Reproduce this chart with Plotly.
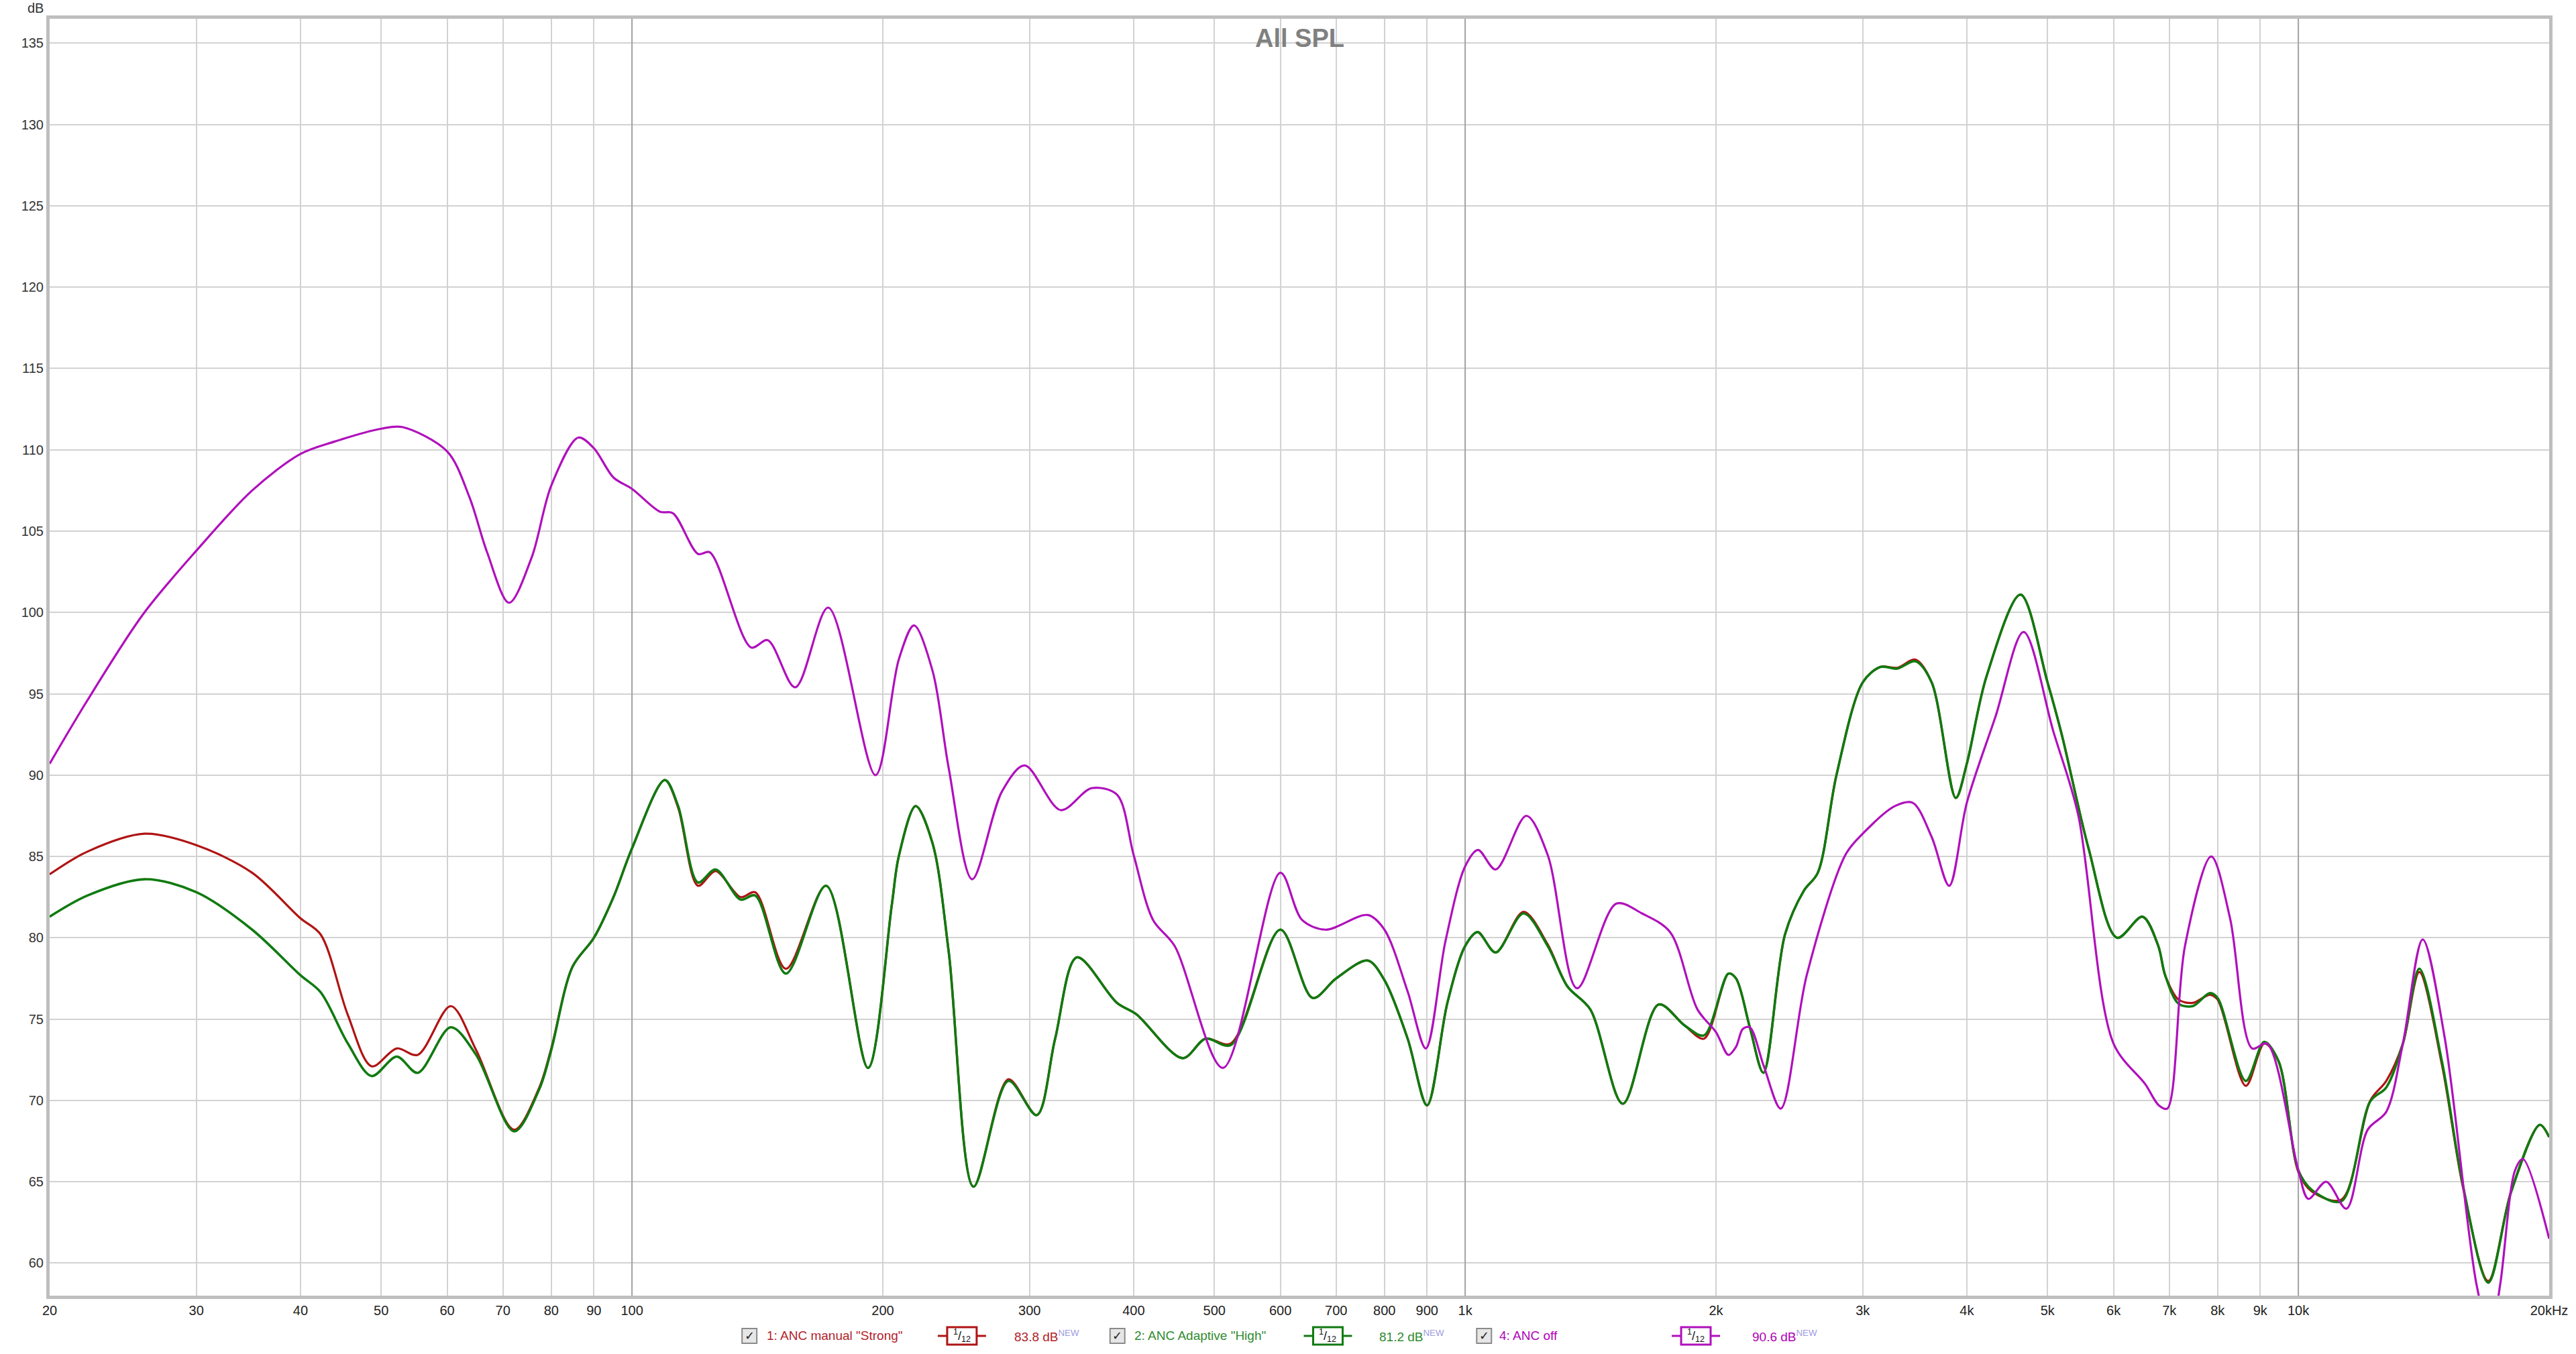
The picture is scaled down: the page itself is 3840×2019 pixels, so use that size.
import plotly.graph_objects as go

# ---------------- data ----------------
freq_off = [20, 22.2, 25.9, 30, 35, 40, 43.9, 50, 53, 60, 63.8, 67, 71.2, 75.8, 80, 86.2, 90, 95, 100,
            108, 112, 120, 124, 139, 145.5, 157, 172, 196, 209, 218, 229.5, 240, 256, 278, 296, 327, 356, 382,
            400, 422, 448, 512, 600, 637, 680, 764, 800, 853, 897, 947, 1000, 1036, 1088, 1184, 1256, 1362,
            1518, 1630, 1762, 1900, 2000, 2070, 2114, 2154, 2196, 2283, 2392, 2570, 2860, 3000, 3280, 3445,
            3630, 3810, 4000, 4330, 4680, 5080, 5440, 6000, 6550, 6800, 6960, 7310, 7860, 8280, 8800, 9170,
            10000, 10280, 10800, 11420, 12110, 12750, 13350, 14100, 14980, 16360, 17000, 17470, 18200, 18600,
            20000]
spl_off = [90.7, 94.6, 99.9, 103.8, 107.5, 109.75, 110.5, 111.3, 111.4, 109.9, 107.1, 103.7, 100.6,
           103.4, 107.8, 110.75, 110.1, 108.3, 107.6, 106.2, 106.1, 103.6, 103.7, 97.85, 98.3, 95.4, 100.3,
           90.0, 97.1, 99.2, 96.4, 90.4, 83.6, 89.0, 90.6, 87.85, 89.2, 88.8, 85.1, 81.1, 79.5, 72.0, 84.0,
           81.1, 80.5, 81.4, 80.5, 76.7, 73.2, 79.8, 84.4, 85.4, 84.2, 87.5, 85.1, 76.9, 82.1, 81.5, 80.35,
           75.6, 74.2, 72.8, 73.3, 74.4, 74.5, 72.1, 69.5, 77.7, 85.1, 86.4, 88.1, 88.3, 86.2, 83.2, 88.3,
           93.6, 98.8, 92.7, 87.6, 73.5, 71.0, 69.7, 69.5, 79.5, 85.0, 81.2, 73.2, 73.5, 65.7, 63.95, 65.0,
           63.35, 68.2, 69.3, 73.5, 79.9, 73.9, 58.7, 55.5, 58.7, 65.7, 66.4, 61.5]

freq_anc = [20, 22.2, 26, 30, 35, 40, 42.3, 45.6, 48.7, 52.2, 55.3, 60.6, 65, 72.2, 77.4, 80, 84.8, 90, 95,
            100, 109.5, 113.6, 120, 126, 135, 140.6, 153, 171, 192, 205, 209, 219, 229.5, 240, 257, 283, 306,
            322, 342, 382, 403, 458, 488, 523, 600, 656, 700, 764, 800, 853, 900, 952, 1000, 1035, 1088,
            1175, 1256, 1327, 1413, 1546, 1707, 1835, 1935, 2070, 2114, 2196, 2280, 2420, 2550, 2650, 2790,
            3000, 3150, 3300, 3470, 3630, 3880, 4000, 4220, 4640, 5000, 5200, 5600, 6060, 6500, 6790, 6920,
            7180, 7470, 7830, 8000, 8650, 9100, 9470, 10000, 10380, 11260, 12200, 12750, 13350, 13970,
            14870, 15770, 16900, 18000, 19490, 20000]
spl_adaptive = [81.3, 82.6, 83.6, 82.8, 80.5, 77.7, 76.65, 73.5, 71.5, 72.7, 71.7, 74.5, 72.8, 68.1, 70.7,
                73.1, 78.2, 80.0, 82.5, 85.5, 89.7, 88.1, 83.4, 84.2, 82.35, 82.6, 77.8, 83.2, 72.0, 82.0,
                85.0, 88.1, 85.8, 79.1, 64.7, 71.2, 69.1, 73.8, 78.8, 76.0, 75.3, 72.6, 73.8, 73.4, 80.5,
                76.3, 77.5, 78.6, 77.4, 73.8, 69.7, 76.0, 79.5, 80.35, 79.1, 81.5, 79.5, 77.0, 75.6, 69.8,
                75.9, 74.6, 74.0, 77.8, 77.5, 74.5, 71.7, 80.2, 82.9, 84.0, 90.0, 95.7, 96.65, 96.55, 97.0,
                95.7, 88.6, 90.7, 96.0, 101.1, 95.7, 92.5, 85.5, 80.0, 81.3, 79.5, 77.7, 75.95, 75.8, 76.6,
                76.3, 71.2, 73.6, 72.4, 65.7, 64.5, 63.8, 69.95, 70.8, 73.5, 78.1, 72.4, 64.7, 58.8, 64.35,
                68.5, 67.75]
spl_manual = [83.9, 85.3, 86.4, 85.7, 84.0, 81.2, 80.2, 75.25, 72.1, 73.2, 72.8, 75.8, 73.1, 68.2, 70.8,
              73.2, 78.2, 80.0, 82.5, 85.5, 89.7, 88.0, 83.2, 84.1, 82.5, 82.8, 78.1, 83.2, 72.0, 82.0,
              85.0, 88.1, 85.8, 79.1, 64.7, 71.3, 69.1, 73.8, 78.8, 76.0, 75.3, 72.6, 73.8, 73.5, 80.5,
              76.3, 77.5, 78.6, 77.4, 73.8, 69.7, 76.0, 79.5, 80.35, 79.1, 81.6, 79.6, 77.0, 75.6, 69.8,
              75.9, 74.6, 73.8, 77.8, 77.5, 74.5, 71.7, 80.2, 82.9, 84.0, 90.0, 95.7, 96.65, 96.6, 97.1,
              95.7, 88.6, 90.7, 96.0, 101.1, 95.7, 92.5, 85.5, 80.0, 81.3, 79.5, 77.7, 76.2, 76.0, 76.5,
              76.2, 70.9, 73.5, 72.4, 65.6, 64.4, 63.9, 70.0, 71.2, 73.5, 77.9, 72.2, 64.6, 58.9, 64.4,
              68.5, 67.75]

x_ticks = [20, 30, 40, 50, 60, 70, 80, 90, 100, 200, 300, 400, 500, 600, 700, 800, 900, 1000,
           2000, 3000, 4000, 5000, 6000, 7000, 8000, 9000, 10000, 20000]
x_tick_text = ["20", "30", "40", "50", "60", "70", "80", "90", "100", "200", "300", "400", "500", "600",
               "700", "800", "900", "1k", "2k", "3k", "4k", "5k", "6k", "7k", "8k", "9k", "10k", "20kHz"]
major_lines = [100, 1000, 10000]
y_ticks = list(range(60, 140, 5))

series_names = ['1: ANC manual "Strong"', '2: ANC Adaptive "High"', '4: ANC off']
series_levels = ["83.8 dB", "81.2 dB", "90.6 dB"]

# ---------------- layout helpers ----------------
W, H = 3840, 2019
L, R, T, B = 74, 3803, 28, 1932
Y_RANGE = [58.0, 136.5]


def px(X):
    return (X - L) / (R - L)


def py(Y):
    return (B - Y) / (B - T)


FONT = "Liberation Sans, Arial, sans-serif"
C_RED = "#B01414"
C_GREEN = "#107A10"
C_PURPLE = "#B010BC"

fig = go.Figure()

# darker decade grid lines
for m in major_lines:
    fig.add_trace(go.Scatter(x=[m, m], y=Y_RANGE, mode="lines",
                             line=dict(color="#A4A4A4", width=2),
                             hoverinfo="skip", showlegend=False))

fig.add_trace(go.Scatter(x=freq_anc, y=spl_manual, mode="lines", name=series_names[0],
                         line=dict(color=C_RED, width=3.2, shape="spline", smoothing=0.9)))
fig.add_trace(go.Scatter(x=freq_anc, y=spl_adaptive, mode="lines", name=series_names[1],
                         line=dict(color=C_GREEN, width=3.6, shape="spline", smoothing=0.9)))
fig.add_trace(go.Scatter(x=freq_off, y=spl_off, mode="lines", name=series_names[2],
                         line=dict(color=C_PURPLE, width=3.2, shape="spline", smoothing=0.9)))

fig.update_xaxes(type="log", range=[1.30103, 4.30103], tickvals=x_ticks, ticktext=x_tick_text,
                 showgrid=True, gridcolor="#D2D2D2", gridwidth=2, zeroline=False,
                 showline=True, linecolor="#BEBEBE", linewidth=5, mirror=True, ticks="",
                 tickfont=dict(family=FONT, size=20, color="#222222"))
fig.update_yaxes(range=Y_RANGE, tickvals=y_ticks, showgrid=True, gridcolor="#D2D2D2", gridwidth=2,
                 zeroline=False, showline=True, linecolor="#BEBEBE", linewidth=5, mirror=True, ticks="",
                 tickfont=dict(family=FONT, size=20, color="#333333"))

annotations = [
    dict(text="<b>All SPL</b>", x=0.5, y=py(57), xref="paper", yref="paper", showarrow=False,
         xanchor="center", yanchor="middle", font=dict(family=FONT, size=38, color="#808080")),
    dict(text="dB", x=px(53), y=py(12), xref="paper", yref="paper", showarrow=False,
         xanchor="center", yanchor="middle", font=dict(family=FONT, size=20, color="#333333")),
]
shapes = []

# bottom legend
LY = 1992
legend_items = [
    # checkbox x, label x, icon x (center), level x, color, text color
    (1118, 1142, 1435, 1511, C_RED, "#B2222A"),
    (1667, 1690, 1981, 2056, C_GREEN, "#2E8B2E"),
    (2214, 2235, 2530, 2612, C_PURPLE, "#B000B8"),
]
for i, (cbx, lx, icx, lvx, col, tcol) in enumerate(legend_items):
    shapes.append(dict(type="rect", xref="paper", yref="paper", x0=px(cbx - 11), x1=px(cbx + 11),
                       y0=py(LY + 11), y1=py(LY - 11), line=dict(color="#8A8A8A", width=2),
                       fillcolor="#E6E6E6"))
    annotations.append(dict(text="<b>✓</b>", x=px(cbx), y=py(LY), xref="paper", yref="paper",
                            showarrow=False, xanchor="center", yanchor="middle",
                            font=dict(family="DejaVu Sans", size=18, color="#222222")))
    annotations.append(dict(text=series_names[i], x=px(lx), y=py(LY), xref="paper", yref="paper",
                            showarrow=False, xanchor="left", yanchor="middle",
                            font=dict(family=FONT, size=19, color=tcol)))
    shapes.append(dict(type="line", xref="paper", yref="paper", x0=px(icx - 36), x1=px(icx + 36),
                       y0=py(LY), y1=py(LY), line=dict(color=col, width=3)))
    shapes.append(dict(type="rect", xref="paper", yref="paper", x0=px(icx - 22), x1=px(icx + 22),
                       y0=py(LY + 13), y1=py(LY - 13), line=dict(color=col, width=3), fillcolor="white"))
    annotations.append(dict(text="<sup>1</sup>/<sub>12</sub>", x=px(icx), y=py(LY), xref="paper",
                            yref="paper", showarrow=False, xanchor="center", yanchor="middle",
                            font=dict(family=FONT, size=18, color="#111111")))
    annotations.append(dict(text=series_levels[i] +
                            "<sup><span style='color:#9A9AE0'>NEW</span></sup>",
                            x=px(lvx), y=py(LY), xref="paper", yref="paper", showarrow=False,
                            xanchor="left", yanchor="middle",
                            font=dict(family=FONT, size=19, color=tcol)))

fig.update_layout(width=W, height=H, margin=dict(l=L, r=W - R, t=T, b=H - B, pad=0),
                  paper_bgcolor="white", plot_bgcolor="white", showlegend=False,
                  annotations=annotations, shapes=shapes)

fig.write_html("out.html", config={"displayModeBar": False},
               post_script="document.body.style.margin='0';document.body.style.overflow='hidden';")
